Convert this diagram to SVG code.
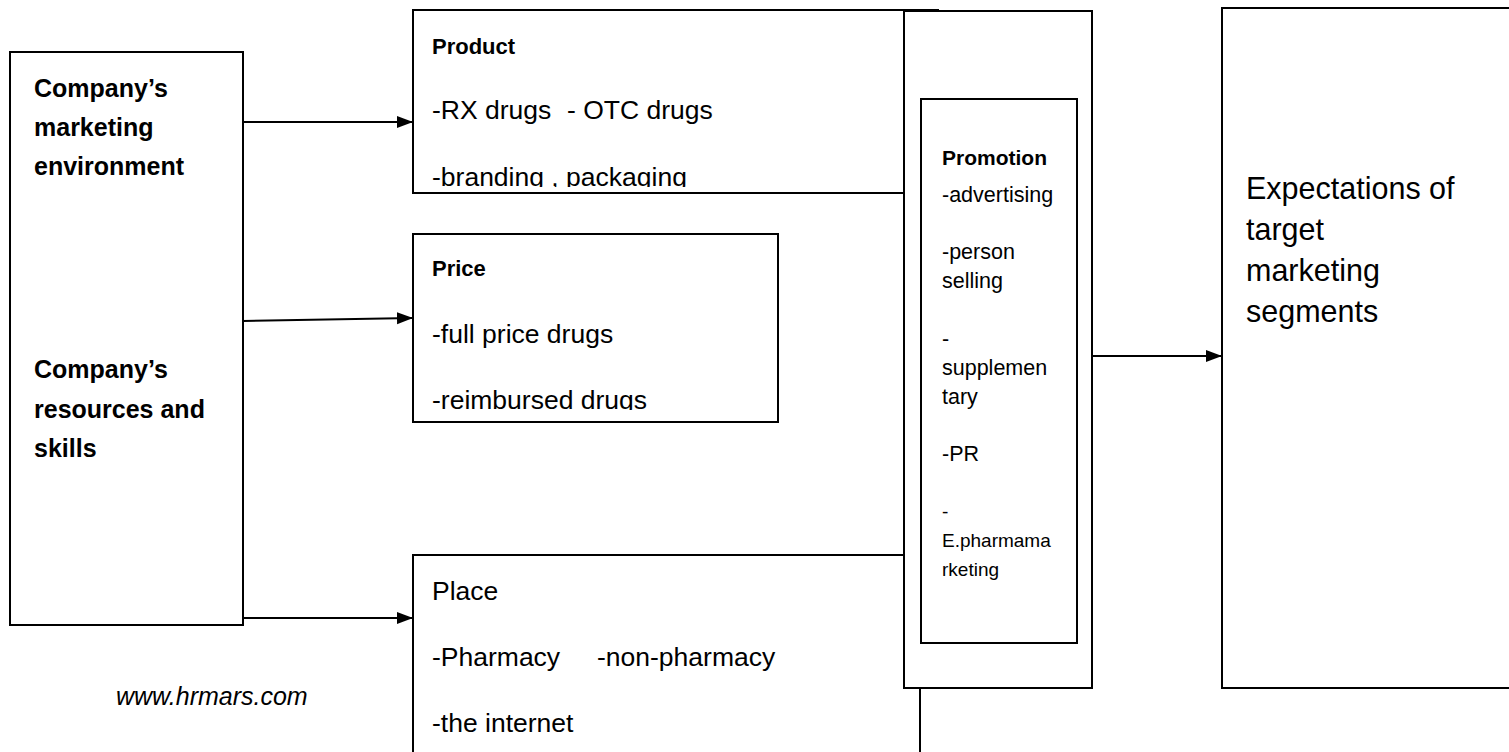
<svg xmlns="http://www.w3.org/2000/svg" width="1509" height="752" viewBox="0 0 1509 752">
<style>
  .box{fill:#fff;stroke:#000;stroke-width:2}
  .t{font-family:"Liberation Sans",Arial,sans-serif;fill:#000}
  .body{font-size:26.5px}
  .head{font-size:22px;font-weight:bold}
  .lb{font-size:25px;font-weight:bold}
  .pr{font-size:21.5px}
  .prh{font-size:21px;font-weight:bold}
  .prs{font-size:19px}
  .exp{font-size:30.5px}
  .url{font-size:25px;font-style:italic}
  .conn{stroke:#000;stroke-width:2;fill:none}
</style>
<defs>
  <marker id="ah" markerUnits="userSpaceOnUse" markerWidth="16" markerHeight="13" refX="16" refY="6.5" orient="auto" viewBox="0 0 16 13">
    <path d="M0,0.5 L16,6.5 L0,12.5 z" fill="#000"/>
  </marker>
  <clipPath id="cProd"><rect x="413" y="10" width="491" height="177"/></clipPath>
  <clipPath id="cPrice"><rect x="413" y="234" width="365" height="176"/></clipPath>
</defs>

<g id="place">
  <rect class="box" x="413" y="555" width="507" height="220"/>
  <text class="t body" x="432" y="600">Place</text>
  <text class="t body" y="666"><tspan x="432">-Pharmacy</tspan><tspan x="597">-non-pharmacy</tspan></text>
  <text class="t body" x="432" y="732">-the internet</text>
</g>

<g id="product">
  <rect class="box" x="413" y="10" width="525" height="183"/>
  <g clip-path="url(#cProd)">
    <text class="t head" x="432" y="54">Product</text>
    <text class="t body" y="119"><tspan x="432">-RX drugs</tspan><tspan x="567">- OTC drugs</tspan></text>
    <text class="t body" x="432" y="186">-branding , packaging</text>
  </g>
</g>

<g id="price">
  <rect class="box" x="413" y="234" width="365" height="188"/>
  <g clip-path="url(#cPrice)">
    <text class="t head" x="432" y="276">Price</text>
    <text class="t body" x="432" y="343">-full price drugs</text>
    <text class="t body" x="432" y="409">-reimbursed drugs</text>
  </g>
</g>

<g id="promotion">
  <rect class="box" x="904" y="11" width="188" height="677"/>
  <rect class="box" x="921" y="99" width="156" height="544"/>
  <text class="t prh" x="942" y="165">Promotion</text>
  <text class="t pr" x="942" y="202">-advertising</text>
  <text class="t pr" x="942" y="259">-person</text>
  <text class="t pr" x="942" y="288">selling</text>
  <text class="t pr" x="942" y="346">-</text>
  <text class="t pr" x="942" y="375">supplemen</text>
  <text class="t pr" x="942" y="404">tary</text>
  <text class="t pr" x="942" y="461">-PR</text>
  <text class="t prs" x="942" y="518">-</text>
  <text class="t prs" x="942" y="547">E.pharmama</text>
  <text class="t prs" x="942" y="576">rketing</text>
</g>

<g id="expectations">
  <rect class="box" x="1222" y="8" width="300" height="680"/>
  <text class="t exp" x="1246" y="199">Expectations of</text>
  <text class="t exp" x="1246" y="240">target</text>
  <text class="t exp" x="1246" y="281">marketing</text>
  <text class="t exp" x="1246" y="322">segments</text>
</g>

<g id="company">
  <rect class="box" x="10" y="52" width="233" height="573"/>
  <text class="t lb" x="34" y="97">Company’s</text>
  <text class="t lb" x="34" y="136">marketing</text>
  <text class="t lb" x="34" y="175">environment</text>
  <text class="t lb" x="34" y="378">Company’s</text>
  <text class="t lb" x="34" y="418">resources and</text>
  <text class="t lb" x="34" y="457">skills</text>
</g>

<g id="source">
  <text class="t url" x="116" y="705">www.hrmars.com</text>
</g>

<g id="connectors">
  <line class="conn" x1="243" y1="122" x2="413" y2="122" marker-end="url(#ah)"/>
  <line class="conn" x1="243" y1="321" x2="413" y2="318" marker-end="url(#ah)"/>
  <line class="conn" x1="243" y1="618" x2="413" y2="618" marker-end="url(#ah)"/>
  <line class="conn" x1="1092" y1="356" x2="1222" y2="356" marker-end="url(#ah)"/>
</g>
</svg>
